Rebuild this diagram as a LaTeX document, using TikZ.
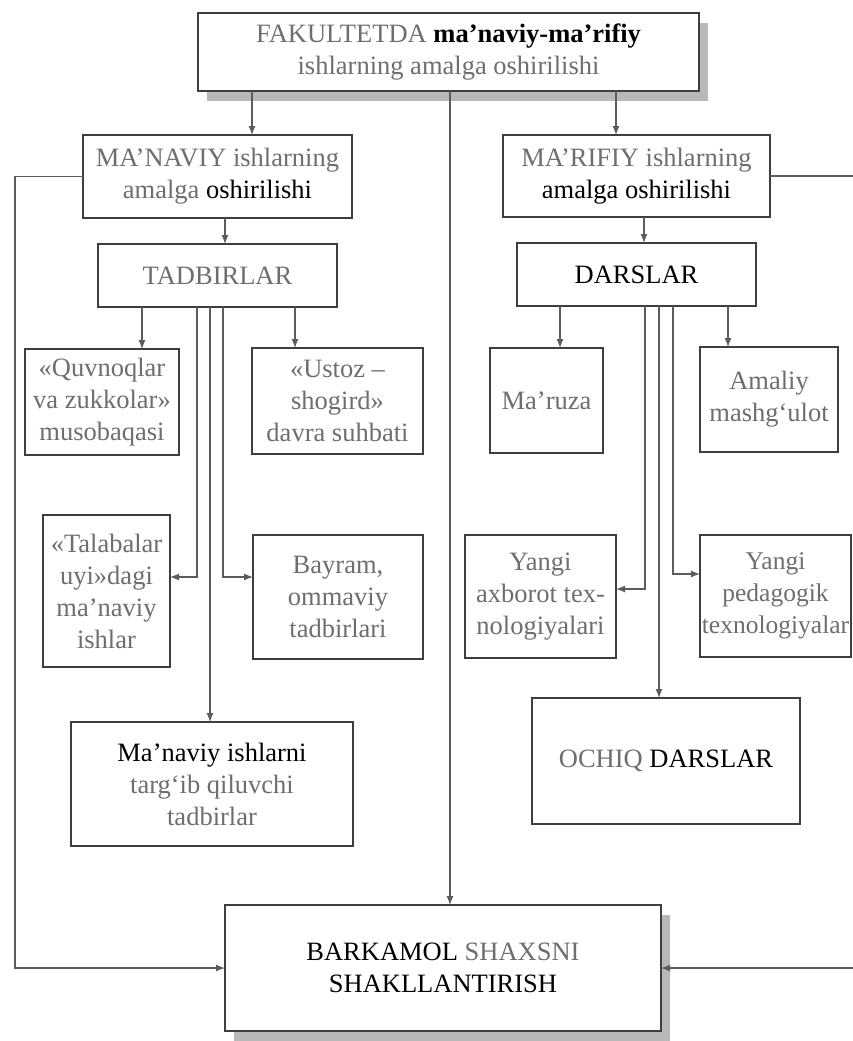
\documentclass[tikz,border=0pt]{standalone}
\usepackage{fontspec}
\setmainfont{Liberation Serif}
\usepackage{xcolor}
\usepackage{tikz}
\usetikzlibrary{arrows.meta,positioning,shadows}
\definecolor{ishgray}{HTML}{6E6E6E}
\definecolor{ishline}{HTML}{5C5C5C}
\definecolor{ishframe}{HTML}{3E3E3E}
\definecolor{ishshadow}{HTML}{B8B8B8}

\begin{document}
\begin{tikzpicture}[
        x=1pt, y=-1pt,
        box/.style={
            draw=ishframe,
            line width=1.6pt,
            fill=white,
            inner sep=0pt,
            outer sep=0pt,
            align=center,
            text=ishgray,
            font=\fontsize{26.5}{32}\selectfont
        },
        shadowbox/.style={
            box,
            drop shadow={shadow xshift=9pt, shadow yshift=-10pt, fill=ishshadow, opacity=1}
        },
        line/.style={-{Latex[length=9pt,width=7pt]},line width=1.2pt,ishline}
    ]
        \useasboundingbox (0,0) rectangle (853,1041);

        % top level
        \node[shadowbox, minimum width=501, minimum height=78] (top) at (448.5,52)
            {FAKULTETDA \textcolor{black}{\textbf{ma'naviy-ma'rifiy}}\\ishlarning amalga oshirilishi};
        \node[box, minimum width=269, minimum height=83] (manav) at (217.5,176.5)
            {MA'NAVIY ishlarning\\amalga \textcolor{black}{oshirilishi}};
        \node[box, minimum width=267, minimum height=82] (marif) at (636.5,176)
            {MA'RIFIY ishlarning\\\textcolor{black}{amalga oshirilishi}};
        \node[box, minimum width=239, minimum height=63] (tad) at (217.5,275.5) {TADBIRLAR};
        \node[box, minimum width=239, minimum height=63, text=black] (dars) at (636.5,274.5) {DARSLAR};

        % tadbirlar
        \node[box, minimum width=154, minimum height=106] (quvnoq) at (102,402)
            {«Quvnoqlar\\va zukkolar»\\musobaqasi};
        \node[box, minimum width=171, minimum height=106] (ustoz) at (337.5,401)
            {«Ustoz –\\shogird»\\davra suhbati};
        \node[box, minimum width=127, minimum height=152] (talaba) at (106.5,591)
            {«Talabalar\\uyi»dagi\\ma'naviy\\ishlar};
        \node[box, minimum width=170, minimum height=124] (bayram) at (338,597)
            {Bayram,\\ommaviy\\tadbirlari};
        \node[box, minimum width=282, minimum height=124] (targib) at (212,784)
            {\textcolor{black}{Ma'naviy ishlarni}\\targ‘ib qiluvchi\\tadbirlar};

        % darslar
        \node[box, minimum width=113, minimum height=105] (maruza) at (546.5,400.5) {Ma'ruza};
        \node[box, minimum width=138, minimum height=105] (amaliy) at (769,399.5)
            {Amaliy\\mashg‘ulot};
        \node[box, minimum width=151, minimum height=123] (axborot) at (540.5,596.5)
            {Yangi\\axborot tex-\\nologiyalari};
        \node[box, minimum width=151, minimum height=122, font=\fontsize{25.5}{32}\selectfont] (pedag) at (775.5,596)
            {Yangi\\pedagogik\\texnologiyalar};
        \node[box, minimum width=268, minimum height=126] (ochiq) at (666,761)
            {OCHIQ \textcolor{black}{DARSLAR}};

        % result
        \node[shadowbox, minimum width=436, minimum height=126] (bark) at (443,968)
            {\textcolor{black}{BARKAMOL} SHAXSNI\\\textcolor{black}{SHAKLLANTIRISH}};

        \coordinate (lft) at (15,968);
        \coordinate (rgt) at (858,968);

        \draw[line] ([xshift=-196.5pt]top.south) -- ([xshift=-196.5pt]top.south |- manav.north);
        \draw[line] ([xshift=167.5pt]top.south) -- ([xshift=167.5pt]top.south |- marif.north);
        \draw[line] ([xshift=1.5pt]top.south) -- ([xshift=1.5pt]top.south |- bark.north);
        \draw[line] ([xshift=7.5pt]manav.south) -- ([xshift=7.5pt]manav.south |- tad.north);
        \draw[line] ([xshift=7.5pt]marif.south) -- ([xshift=7.5pt]marif.south |- dars.north);

        \draw[line] ([xshift=-75.5pt]tad.south) -- ([xshift=-75.5pt]tad.south |- quvnoq.north);
        \draw[line] ([xshift=77.5pt]tad.south) -- ([xshift=77.5pt]tad.south |- ustoz.north);
        \draw[line] ([xshift=-20.5pt]tad.south) |- ([yshift=14pt]talaba.east);
        \draw[line] ([xshift=-7.5pt]tad.south) -- ([xshift=-7.5pt]tad.south |- targib.north);
        \draw[line] ([xshift=5.5pt]tad.south) |- ([yshift=20pt]bayram.west);

        \draw[line] ([xshift=-76.5pt]dars.south) -- ([xshift=-76.5pt]dars.south |- maruza.north);
        \draw[line] ([xshift=91.5pt]dars.south) -- ([xshift=91.5pt]dars.south |- amaliy.north);
        \draw[line] ([xshift=8.5pt]dars.south) |- ([yshift=7.5pt]axborot.east);
        \draw[line] ([xshift=22.5pt]dars.south) -- ([xshift=22.5pt]dars.south |- ochiq.north);
        \draw[line] ([xshift=36.5pt]dars.south) |- ([yshift=22pt]pedag.west);

        \draw[line] (manav.west) -| (lft) -- (bark.west);
        \draw[line] (marif.east) -| (rgt) -- (bark.east);
    \end{tikzpicture}
\end{document}
